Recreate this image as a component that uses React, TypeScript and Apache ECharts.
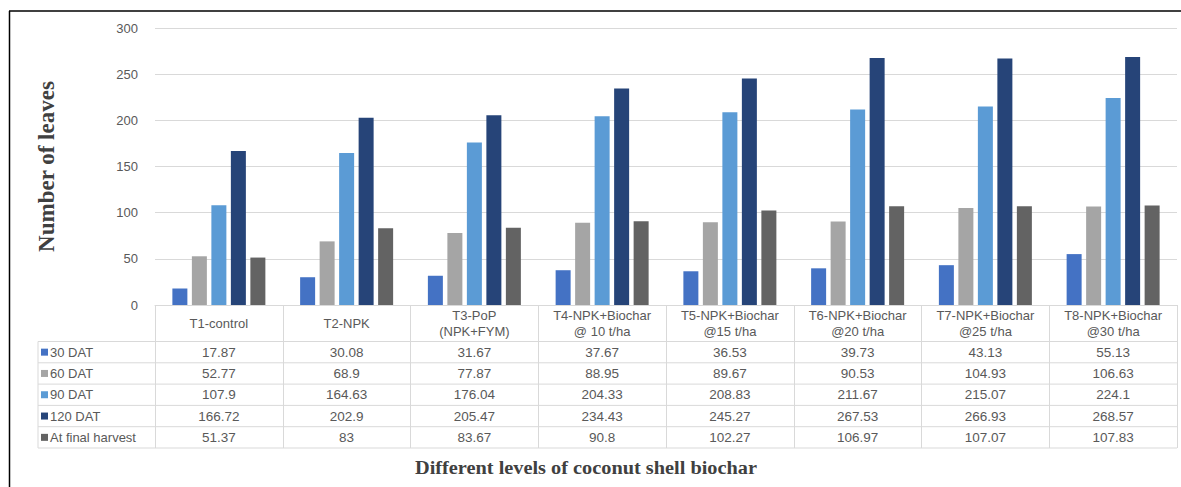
import React, { useEffect, useRef } from "react";
import * as echarts from "echarts";

const categories = [
  "T1-control",
  "T2-NPK",
  "T3-PoP\n(NPK+FYM)",
  "T4-NPK+Biochar\n@ 10 t/ha",
  "T5-NPK+Biochar\n@15 t/ha",
  "T6-NPK+Biochar\n@20 t/ha",
  "T7-NPK+Biochar\n@25 t/ha",
  "T8-NPK+Biochar\n@30 t/ha",
];
const seriesNames = ["30 DAT", "60 DAT", "90 DAT", "120 DAT", "At final harvest"];
const dat30 = [17.87, 30.08, 31.67, 37.67, 36.53, 39.73, 43.13, 55.13];
const dat60 = [52.77, 68.9, 77.87, 88.95, 89.67, 90.53, 104.93, 106.63];
const dat90 = [107.9, 164.63, 176.04, 204.33, 208.83, 211.67, 215.07, 224.1];
const dat120 = [166.72, 202.9, 205.47, 234.43, 245.27, 267.53, 266.93, 268.57];
const finalHarvest = [51.37, 83, 83.67, 90.8, 102.27, 106.97, 107.07, 107.83];
const yTicks = { min: 0, max: 300, interval: 50 };
const colors = ["#4472C4", "#A5A5A5", "#5B9BD5", "#264478", "#636363"];
const yTitle = "Number of leaves";
const xTitle = "Different levels of coconut shell biochar";

const W = 1181;
const H = 487;
const GRID_LEFT = 155;
const GRID_RIGHT = 4;
const GRID_TOP = 28;
const AXIS_Y = 305;
const HEADER_BOTTOM = 341.5;
const ROW_H = 21.3;
const LEGEND_LEFT = 38;
const SANS = "'Liberation Sans', Arial, sans-serif";
const SERIF = "'Liberation Serif', 'Times New Roman', serif";
const TEXT_COLOR = "#595959";
const LINE_COLOR = "#D9D9D9";

export default function App() {
  const ref = useRef<HTMLDivElement>(null);
  useEffect(() => {
    if (!ref.current) return;
    const chart = echarts.init(ref.current, undefined, { renderer: "svg" });
    const allSeries = [dat30, dat60, dat90, dat120, finalHarvest];
    const tableBottom = HEADER_BOTTOM + ROW_H * allSeries.length;
    chart.setOption({
      animation: false,
      backgroundColor: "#ffffff",
      grid: {
        left: GRID_LEFT,
        right: GRID_RIGHT,
        top: GRID_TOP,
        bottom: H - AXIS_Y,
        containLabel: false,
      },
      xAxis: {
        type: "category",
        data: categories,
        axisLine: { show: true, lineStyle: { color: LINE_COLOR, width: 1 } },
        axisTick: {
          show: true,
          interval: 0,
          length: tableBottom - AXIS_Y,
          lineStyle: { color: LINE_COLOR, width: 1 },
        },
        axisLabel: {
          interval: 0,
          margin: 18,
          fontSize: 13,
          lineHeight: 16,
          color: TEXT_COLOR,
          fontFamily: SANS,
          verticalAlign: "middle",
        },
      },
      yAxis: {
        type: "value",
        min: yTicks.min,
        max: yTicks.max,
        interval: yTicks.interval,
        name: yTitle,
        nameLocation: "middle",
        nameRotate: 90,
        nameGap: GRID_LEFT - 46,
        nameTextStyle: {
          fontFamily: SERIF,
          fontWeight: "bold",
          fontSize: 23,
          color: "#404040",
          verticalAlign: "middle",
        },
        axisLine: { show: false },
        axisTick: { show: false },
        axisLabel: { fontSize: 13, color: TEXT_COLOR, fontFamily: SANS, margin: 17 },
        splitLine: { lineStyle: { color: LINE_COLOR, width: 1 } },
      },
      series: allSeries.map((d, i) => ({
        name: seriesNames[i],
        type: "bar",
        data: d,
        barWidth: 15,
        barGap: "30%",
        itemStyle: { color: colors[i] },
      })),
    });

    const centers = categories.map((_, i) =>
      chart.convertToPixel({ xAxisIndex: 0 }, i) as number
    );
    const rightEdge = W - GRID_RIGHT;
    const g: any[] = [];
    // frame
    g.push({ type: "line", shape: { x1: 9, y1: 11, x2: W, y2: 11 }, style: { stroke: "#000", lineWidth: 1.5 } });
    g.push({ type: "line", shape: { x1: 9.5, y1: 11, x2: 9.5, y2: H }, style: { stroke: "#000", lineWidth: 1.5 } });
    // horizontal table lines
    for (let r = 0; r <= allSeries.length; r++) {
      const y = HEADER_BOTTOM + r * ROW_H;
      g.push({
        type: "line",
        shape: { x1: LEGEND_LEFT, y1: y, x2: rightEdge, y2: y },
        style: { stroke: LINE_COLOR, lineWidth: 1 },
      });
    }
    g.push({
      type: "line",
      shape: { x1: LEGEND_LEFT, y1: HEADER_BOTTOM, x2: LEGEND_LEFT, y2: tableBottom },
      style: { stroke: LINE_COLOR, lineWidth: 1 },
    });
    allSeries.forEach((d, r) => {
      const cy = HEADER_BOTTOM + (r + 0.5) * ROW_H;
      g.push({
        type: "rect",
        shape: { x: 41, y: cy - 3.5, width: 7, height: 7 },
        style: { fill: colors[r] },
      });
      g.push({
        type: "text",
        x: 50,
        y: cy,
        style: {
          text: seriesNames[r],
          fontSize: 13,
          fontFamily: SANS,
          fill: TEXT_COLOR,
          verticalAlign: "middle",
          align: "left",
        },
      });
      d.forEach((v, c) => {
        g.push({
          type: "text",
          x: centers[c],
          y: cy,
          style: {
            text: String(v),
            fontSize: 13.5,
            fontFamily: SANS,
            fill: TEXT_COLOR,
            verticalAlign: "middle",
            align: "center",
          },
        });
      });
    });
    g.push({
      type: "text",
      x: 586,
      y: 467,
      scaleX: 1.07,
      style: {
        text: xTitle,
        fontSize: 19,
        fontWeight: "bold",
        fontFamily: SERIF,
        fill: "#404040",
        align: "center",
        verticalAlign: "middle",
      },
    });
    chart.setOption({ graphic: g });
    return () => chart.dispose();
  }, []);
  return (
    <div
      ref={ref}
      style={{ position: "fixed", left: 0, top: 0, width: W, height: H, background: "#fff" }}
    />
  );
}
